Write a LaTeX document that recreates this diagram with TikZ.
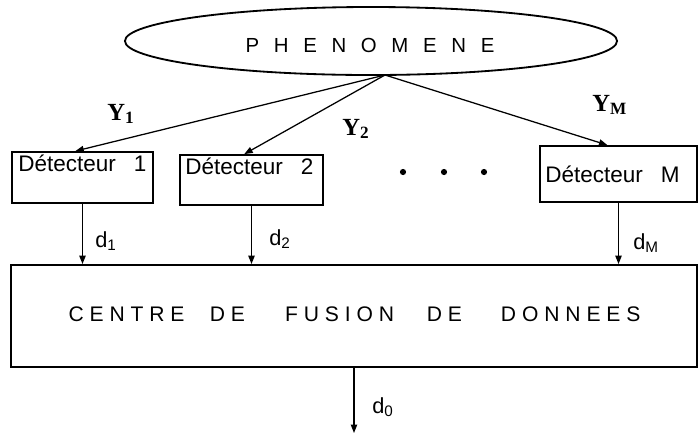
\documentclass[tikz,border=0pt]{standalone}
\usepackage{fontspec}
\setmainfont{Liberation Sans}
\newfontfamily\yfont{Liberation Serif}
\usepackage{amsmath}
\usetikzlibrary{shapes.geometric,arrows.meta,calc}

\tikzset{
  detbox/.style={draw, line width=1.3pt, inner sep=0pt},
  flow/.style={-{Triangle[length=6pt,width=4.5pt]}, line width=0.9pt},
  ylabel/.style={anchor=base west, inner sep=0pt, font=\yfont\bfseries\fontsize{17.5}{20}\selectfont},
  dlabel/.style={anchor=base west, inner sep=0pt, font=\fontsize{15.5}{18}\selectfont},
  dettext/.style={anchor=base west, inner sep=0pt, font=\fontsize{16}{19}\selectfont},
}
\newcommand{\lsp}{\hspace{0.72em}}

\begin{document}
\begin{tikzpicture}[x=0.025cm, y=-0.025cm]
    \useasboundingbox (0,0) rectangle (698,437);

    % Phenomene
    \node[ellipse, draw, line width=1.3pt, minimum width=12.3cm, minimum height=1.7cm, inner sep=0pt] (phen) at (371,41) {};
    \node[anchor=base, inner sep=0pt, font=\fontsize{14.5}{17}\selectfont] (phentext) at (370,52) {P\lsp H\lsp E\lsp N\lsp O\lsp M\lsp E\lsp N\lsp E};
    \coordinate (apex) at (385,75);

    % Detectors
    \node[detbox, minimum width=3.525cm, minimum height=1.275cm] (det1) at (82.5,177.5) {};
    \node[dettext] (det1text) at (18,171) {Détecteur\hspace{0.8em}1};
    \node[detbox, minimum width=3.575cm, minimum height=1.25cm] (det2) at (251.5,180) {};
    \node[dettext] (det2text) at (185,174) {Détecteur\hspace{0.8em}2};
    \node[detbox, minimum width=3.925cm, minimum height=1.4cm] (detM) at (618.5,174) {};
    \node[dettext] (detMtext) at (545,182) {Détecteur\hspace{0.8em}M};

    % Dots
    \foreach \x in {403,444,484}
        \fill (\x,172) circle (2.2pt);

    % Observations
    \draw[flow] (apex) -- ($(det1.north west)!0.45!(det1.north east)$);
    \draw[flow] (apex) -- ($(det2.north west)!0.45!(det2.north east)$);
    \draw[flow] (apex) -- ($(detM.north west)!0.43!(detM.north east)$);
    \node[ylabel] (y1) at (107,120) {Y$_{\text{1}}$};
    \node[ylabel] (y2) at (342,135) {Y$_{\text{2}}$};
    \node[ylabel] (yM) at (592,111) {Y$_{\text{M}}$};

    % Fusion centre
    \node[detbox, minimum width=17.15cm, minimum height=2.55cm] (fusion) at (354,316) {};
    \node[anchor=base, inner sep=0pt, font=\fontsize{15}{17}\selectfont] (fusiontext) at (354.5,321) {C E N T R E\hspace{1.2em}D E\hspace{1.9em}F U S I O N\hspace{1.55em}D E\hspace{1.85em}D O N N E E S};

    % Decisions
    \draw[flow] (det1.south) -- (det1.south |- fusion.north);
    \draw[flow] (det2.south) -- (det2.south |- fusion.north);
    \draw[flow] (detM.south) -- (detM.south |- fusion.north);
    \node[dlabel] (d1) at (95,247) {d$_{\text{1}}$};
    \node[dlabel] (d2) at (269,245) {d$_{\text{2}}$};
    \node[dlabel] (dM) at (633,249) {d$_{\text{M}}$};

    % Output
    \coordinate (out) at (354,433);
    \draw[flow] (fusion.south) -- (out);
    \node[dlabel] (d0) at (372,413) {d$_{\text{0}}$};
\end{tikzpicture}
\end{document}
